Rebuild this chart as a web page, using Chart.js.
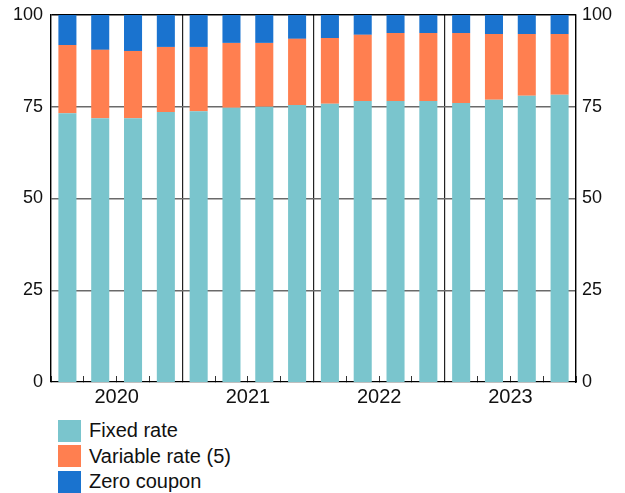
<!DOCTYPE html>
<html>
<head>
<meta charset="utf-8">
<script src="https://cdn.jsdelivr.net/npm/chart.js@4.4.1/dist/chart.umd.min.js"></script>
<style>
  body { margin: 0; background: #fff; font-family: "Liberation Sans", Arial, sans-serif; }
  #wrap { position: relative; width: 625px; height: 410px; }
  #legend { margin: 8px 0 0 58px; }
  .item { display: flex; align-items: center; height: 25.5px; font-size: 20px; color: #111; }
  .box { width: 23px; height: 22px; margin-right: 8px; }
</style>
</head>
<body>
<div id="wrap"><canvas id="chart"></canvas></div>
<div id="legend"></div>
<script>
// quarters 2020 Q1 .. 2023 Q4
const quarters = ["2020 Q1","2020 Q2","2020 Q3","2020 Q4","2021 Q1","2021 Q2","2021 Q3","2021 Q4",
                  "2022 Q1","2022 Q2","2022 Q3","2022 Q4","2023 Q1","2023 Q2","2023 Q3","2023 Q4"];
const years = ["2020", "2021", "2022", "2023"];
const yTicks = [0, 25, 50, 75, 100];

const fixedRate = [73.2, 71.9, 71.9, 73.6, 73.8, 74.7, 75.0, 75.5, 75.8, 76.6, 76.6, 76.6, 76.0, 76.9, 78.0, 78.3];
const variableRate = [18.6, 18.6, 18.3, 17.7, 17.5, 17.7, 17.4, 18.0, 17.9, 18.0, 18.5, 18.5, 19.1, 17.9, 16.8, 16.5];
const zeroCoupon = [8.2, 9.5, 9.8, 8.7, 8.7, 7.6, 7.6, 6.5, 6.3, 5.4, 4.9, 4.9, 4.9, 5.2, 5.2, 5.2];

const seriesNames = ["Fixed rate", "Variable rate (5)", "Zero coupon"];
const seriesColors = ["#7ac5cd", "#ff7f50", "#1a73cf"];

const yFont = { family: "'Liberation Sans', Arial, sans-serif", size: 18 };
const xFont = { family: "'Liberation Sans', Arial, sans-serif", size: 20 };

// y axes: fixed width, no extra vertical padding so the plot top sits at the layout padding
const fitY = w => s => { s.width = w; s.paddingTop = 0; s.paddingBottom = 0; };

new Chart(document.getElementById("chart"), {
    type: 'bar',
    data: {
        labels: quarters,
        datasets: [fixedRate, variableRate, zeroCoupon].map((d, i) => ({
            label: seriesNames[i],
            data: d,
            backgroundColor: seriesColors[i],
            barPercentage: 0.55,
            categoryPercentage: 1
        }))
    },
    options: {
        responsive: true,
        maintainAspectRatio: false,
        animation: false,
        layout: { padding: { top: 15, bottom: 0, left: 0, right: 0 } },
        plugins: { legend: { display: false }, tooltip: { enabled: false } },
        scales: {
            x: {
                stacked: true,
                position: 'bottom',
                ticks: { display: false },
                grid: { offset: true, drawOnChartArea: false, drawTicks: true, tickLength: -6, color: '#333', lineWidth: 1 },
                border: { display: true, color: '#000', width: 1.3 },
                afterFit: s => { s.height = 0; }
            },
            x2: {
                type: 'category',
                labels: years,
                position: 'bottom',
                offset: true,
                ticks: { color: '#111', font: xFont, padding: 3 },
                grid: { offset: true, drawOnChartArea: true, drawTicks: false, color: '#222', lineWidth: 1.2 },
                border: { display: false },
                afterFit: s => { s.height = 28; }
            },
            y: {
                stacked: true,
                min: 0,
                max: 100,
                position: 'left',
                afterBuildTicks: s => { s.ticks = yTicks.map(v => ({ value: v })); },
                ticks: { color: '#111', font: yFont, padding: 8 },
                grid: {
                    drawTicks: false,
                    color: c => (c.tick.value === 100 ? '#000' : '#6a6a6a'),
                    lineWidth: c => (c.tick.value === 0 ? 0 : 1.4)
                },
                border: { display: true, color: '#000', width: 1.3 },
                afterFit: fitY(51)
            },
            y2: {
                min: 0,
                max: 100,
                position: 'right',
                afterBuildTicks: s => { s.ticks = yTicks.map(v => ({ value: v })); },
                ticks: { color: '#111', font: yFont, padding: 6 },
                grid: { display: false, drawTicks: false },
                border: { display: true, color: '#000', width: 1.3 },
                afterFit: fitY(49)
            }
        }
    }
});

// legend stacked vertically under the chart
const legend = document.getElementById("legend");
seriesNames.forEach((name, i) => {
    const row = document.createElement("div");
    row.className = "item";
    row.innerHTML = "<span class='box' style='background:" + seriesColors[i] + "'></span>" + name;
    legend.appendChild(row);
});
</script>
</body>
</html>
